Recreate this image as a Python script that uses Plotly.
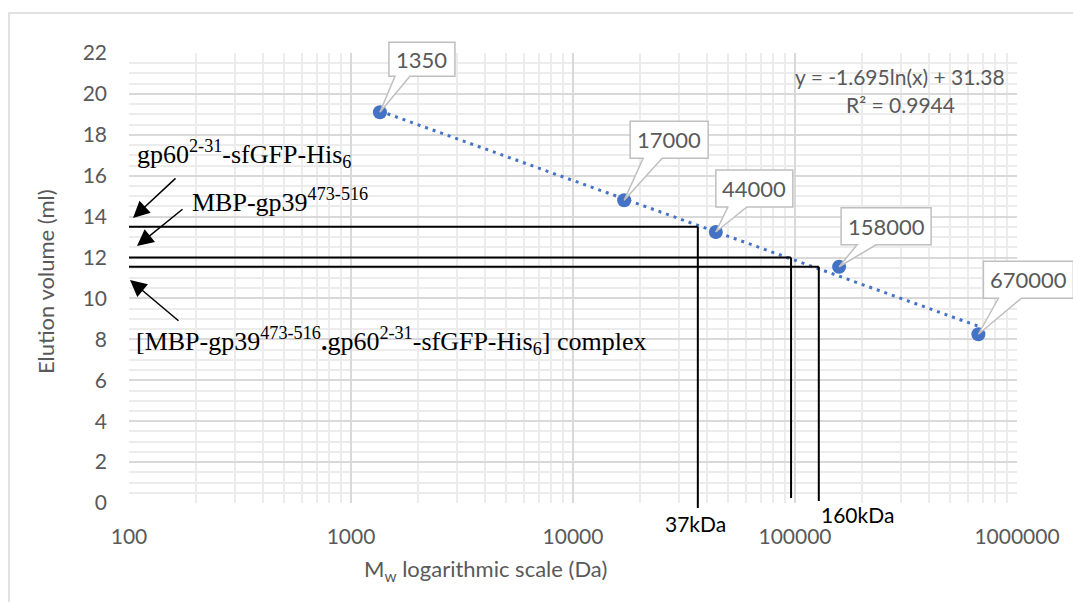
import numpy as np
import plotly.graph_objects as go

# Calibration standards: molecular weight (Da) and elution volume (ml)
std_mw = [1350, 17000, 44000, 158000, 670000]
std_ve = [19.1, 14.8, 13.25, 11.55, 8.25]
std_labels = ["1350", "17000", "44000", "158000", "670000"]

# Logarithmic trendline fitted to the standards
fit_slope = -1.695
fit_intercept = 31.38
fit_r2 = 0.9944

# Sample peaks read against the calibration (elution volume, molecular weight)
sample_ve = [13.5, 12.0, 11.55]
sample_mw = [36500, 96000, 128000]
sample_names = [
    "gp60<sup>2-31</sup>-sfGFP-His<sub>6</sub>",
    "MBP-gp39<sup>473-516</sup>",
    "[MBP-gp39<sup>473-516</sup><b>.</b>gp60<sup>2-31</sup>-sfGFP-His<sub>6</sub>] complex",
]
kda_tags = ["37kDa", "160kDa"]

x_tick_vals = [100, 1000, 10000, 100000, 1000000]
x_tick_text = ["100", "1000", "10000", "100000", "1000000"]
y_tick_vals = list(range(0, 23, 2))

# ---- geometry / styling ----
W, H = 1073, 602
PL, PT, PW, PH = 129, 53, 888, 450          # plot area in pixels
X_RANGE = [2, 6]
Y_RANGE = [0, 22]
BLUE = "#4472C4"
GREY_TXT = "#595959"
SANS = "Lato"
SERIF = "Liberation Serif"


def px(xpix):
    return (xpix - PL) / PW


def py(ypix):
    return (PT + PH - ypix) / PH


def xp_data(mw):
    return (np.log10(mw) - X_RANGE[0]) / (X_RANGE[1] - X_RANGE[0])


def yp_data(v):
    return (v - Y_RANGE[0]) / (Y_RANGE[1] - Y_RANGE[0])


fig = go.Figure()

fig.add_trace(go.Scatter(
    x=std_mw, y=std_ve, mode="markers",
    marker=dict(size=14, color=BLUE),
    showlegend=False, hoverinfo="skip",
))

trend_x = np.array([std_mw[0], std_mw[-1]], dtype=float)
trend_y = fit_slope * np.log(trend_x) + fit_intercept
fig.add_trace(go.Scatter(
    x=trend_x, y=trend_y, mode="lines",
    line=dict(color=BLUE, width=3, dash="3px,5px"),
    showlegend=False, hoverinfo="skip",
))

shapes = []
annotations = []

# outer chart frame
shapes.append(dict(
    type="rect", xref="paper", yref="paper",
    x0=px(9), x1=px(1090), y0=py(620), y1=py(13),
    line=dict(color="#d9d9d9", width=1.5), fillcolor="rgba(0,0,0,0)",
    layer="below",
))

# sample read-off lines
drop_px = [5, -5, -2]
for ve, mw, drop in zip(sample_ve, sample_mw, drop_px):
    shapes.append(dict(
        type="line", xref="x", yref="y",
        x0=10 ** X_RANGE[0], x1=mw, y0=ve, y1=ve,
        line=dict(color="black", width=2), layer="above",
    ))
    shapes.append(dict(
        type="line", xref="x", yref="paper",
        x0=mw, x1=mw, y0=yp_data(ve), y1=-drop / PH,
        line=dict(color="black", width=2), layer="above",
    ))

# callouts for the standards: (left, right, bottom, top, wedge0, wedge1) in px
callout_geom = [
    (9, 75, 36, 70, 15, 30),
    (6, 84, 42, 79, 19, 38),
    (0, 77, 25, 62, 12, 31),
    (2, 92, 22, 59, 18, 37),
    (5, 95, 36, 73, 20, 43),
]
for mw, ve, lab, (l, r, b, t, w0, w1) in zip(std_mw, std_ve, std_labels, callout_geom):
    path = (f"M{l},{b} L{w0},{b} L0,0 L{w1},{b} L{r},{b} "
            f"L{r},{t} L{l},{t} Z")
    shapes.append(dict(
        type="path", xref="paper", yref="paper",
        xsizemode="pixel", ysizemode="pixel",
        xanchor=xp_data(mw), yanchor=yp_data(ve), path=path,
        fillcolor="white", line=dict(color="#bfbfbf", width=1.5),
        layer="above",
    ))
    annotations.append(dict(
        xref="paper", yref="paper", x=xp_data(mw), y=yp_data(ve),
        xshift=(l + r) / 2, yshift=(b + t) / 2,
        text=lab, showarrow=False, xanchor="center", yanchor="middle",
        font=dict(family=SANS, size=22, color=GREY_TXT),
    ))

# trendline equation
annotations.append(dict(
    xref="paper", yref="paper", x=px(900), y=py(76),
    text=f"y = {fit_slope}ln(x) + {fit_intercept}", showarrow=False,
    xanchor="center", yanchor="middle",
    font=dict(family=SANS, size=21, color=GREY_TXT),
))
annotations.append(dict(
    xref="paper", yref="paper", x=px(900), y=py(105),
    text=f"R² = {fit_r2}", showarrow=False,
    xanchor="center", yanchor="middle",
    font=dict(family=SANS, size=21, color=GREY_TXT),
))

# sample names
name_pos = [(135, 154), (190, 200), (134, 341)]
for name, (nx, ny) in zip(sample_names, name_pos):
    annotations.append(dict(
        xref="paper", yref="paper", x=px(nx), y=py(ny),
        text=name, showarrow=False, xanchor="left", yanchor="middle",
        font=dict(family=SERIF, size=26, color="black"),
    ))

# arrows pointing at the read-off lines: tip (px) and tail offset (px)
arrow_geom = [((133, 218), (44, -41)), ((137, 246), (47, -38)), ((130, 280), (50, 42))]
for (tx, ty), (ax, ay) in arrow_geom:
    annotations.append(dict(
        xref="paper", yref="paper", x=px(tx), y=py(ty),
        ax=ax, ay=ay, axref="pixel", ayref="pixel", text="",
        showarrow=True, arrowhead=2, arrowsize=2.2, arrowwidth=1.5,
        arrowcolor="black", standoff=0,
    ))

# kDa tags under the read-off lines
annotations.append(dict(
    xref="paper", yref="paper", x=px(695), y=py(523),
    text=kda_tags[0], showarrow=False, xanchor="center", yanchor="middle",
    font=dict(family=SANS, size=21, color="black"),
))
annotations.append(dict(
    xref="paper", yref="paper", x=px(819), y=py(514),
    text=kda_tags[1], showarrow=False, xanchor="left", yanchor="middle",
    font=dict(family=SANS, size=21, color="black"),
))

# axis titles
annotations.append(dict(
    xref="paper", yref="paper", x=px(45), y=py(282),
    text="Elution volume (ml)", showarrow=False, textangle=-90,
    xanchor="center", yanchor="middle",
    font=dict(family=SANS, size=22, color=GREY_TXT),
))
annotations.append(dict(
    xref="paper", yref="paper", x=px(485), y=py(570),
    text="M<sub>w</sub> logarithmic scale (Da)", showarrow=False,
    xanchor="center", yanchor="middle",
    font=dict(family=SANS, size=22, color=GREY_TXT),
))

fig.update_layout(
    width=W, height=H,
    margin=dict(l=PL, r=W - PL - PW, t=PT, b=H - PT - PH, pad=0),
    paper_bgcolor="white", plot_bgcolor="white",
    shapes=shapes, annotations=annotations, showlegend=False,
    font=dict(family=SANS, size=21, color=GREY_TXT),
)
fig.update_xaxes(
    type="log", range=X_RANGE,
    tickmode="array", tickvals=x_tick_vals, ticktext=x_tick_text,
    showgrid=True, gridcolor="#d9d9d9", gridwidth=1.5,
    minor=dict(dtick="D1", showgrid=True, gridcolor="#ececec", gridwidth=1.5),
    showline=False, zeroline=False, ticks="",
    ticklabelstandoff=19,
    tickfont=dict(family=SANS, size=21, color=GREY_TXT),
)
fig.update_yaxes(
    range=Y_RANGE, tickmode="array", tickvals=y_tick_vals,
    showgrid=True, gridcolor="#d9d9d9", gridwidth=1.5,
    minor=dict(dtick=0.5, showgrid=True, gridcolor="#ececec", gridwidth=1.5),
    showline=False, zeroline=False, ticks="",
    ticklabelstandoff=21,
    tickfont=dict(family=SANS, size=21, color=GREY_TXT),
)

fig.write_html("out.html")
